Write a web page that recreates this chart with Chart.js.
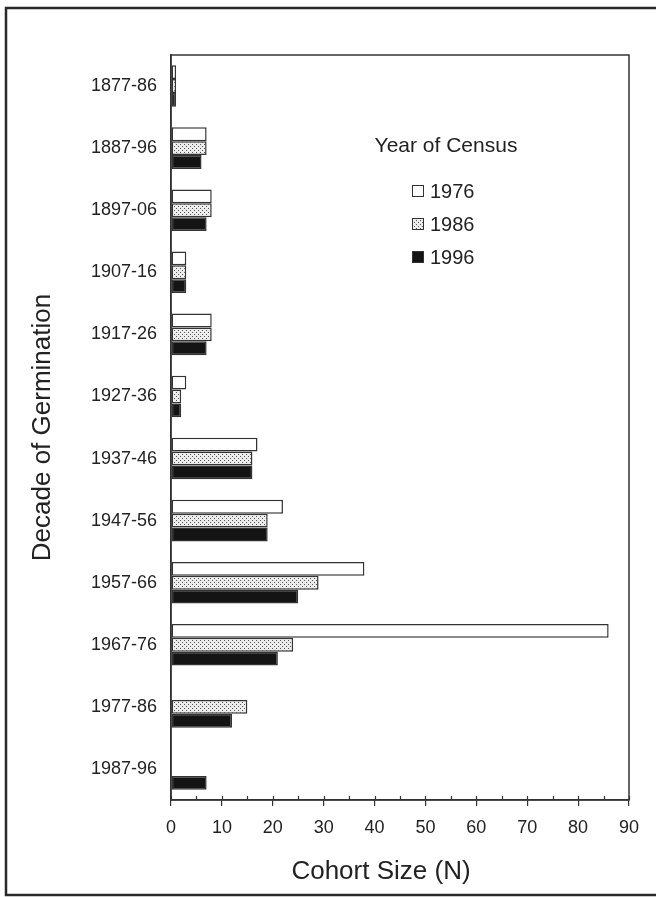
<!DOCTYPE html>
<html>
<head>
<meta charset="utf-8">
<script src="https://cdn.jsdelivr.net/npm/chart.js@4.4.0/dist/chart.umd.min.js"></script>
<style>
  html, body { margin: 0; background: #fff; }
  canvas { display: block; }
</style>
</head>
<body>
<canvas id="chart" width="656" height="897"></canvas>
<script>
// ---- data ----
const decades = ["1877-86", "1887-96", "1897-06", "1907-16", "1917-26", "1927-36",
                 "1937-46", "1947-56", "1957-66", "1967-76", "1977-86", "1987-96"];
const censusYears = ["1976", "1986", "1996"];
const census1976 = [1, 7, 8, 3, 8, 3, 17, 22, 38, 86, null, null];
const census1986 = [1, 7, 8, 3, 8, 2, 16, 19, 29, 24, 15, null];
const census1996 = [1, 6, 7, 3, 7, 2, 16, 19, 25, 21, 12, 7];
const xMin = 0, xMax = 90, xStep = 10, xMinorStep = 5;
const xTitle = "Cohort Size (N)";
const yTitle = "Decade of Germination";

const FONT = "'Liberation Sans', Arial, sans-serif";
const INK = "#222";

const canvas = document.getElementById("chart");
const ctx = canvas.getContext("2d");

// stipple fill for the 1986 bars
function dotPattern() {
  const c = document.createElement("canvas");
  c.width = 4; c.height = 4;
  const g = c.getContext("2d");
  g.fillStyle = "#ececec";
  g.fillRect(0, 0, 4, 4);
  g.fillStyle = "#555";
  g.fillRect(0, 0, 1, 1);
  g.fillRect(2, 2, 1, 1);
  return ctx.createPattern(c, "repeat");
}

const fills = ["#ffffff", dotPattern(), "#141414"];

// plot box, minor ticks, x title, outer frame and the legend inside the plot
const extras = {
  id: "extras",
  afterDraw(chart) {
    const { ctx, chartArea: a, scales: { x } } = chart;
    ctx.save();
    ctx.strokeStyle = "#333";
    ctx.lineWidth = 1.5;
    ctx.strokeRect(a.left, a.top, a.right - a.left, a.bottom - a.top);

    ctx.lineWidth = 1.2;
    ctx.beginPath();
    for (let v = xMin; v <= xMax; v += xMinorStep) {
      const px = Math.round(x.getPixelForValue(v)) + 0.5;
      ctx.moveTo(px, a.bottom);
      ctx.lineTo(px, a.bottom - 4);
    }
    ctx.stroke();

    // x title sits a little left of the plot centre in the original
    ctx.fillStyle = INK;
    ctx.font = "26px " + FONT;
    ctx.textAlign = "center";
    ctx.textBaseline = "middle";
    ctx.fillText(xTitle, 381, 872);

    // page frame
    ctx.strokeStyle = "#2a2a2a";
    ctx.lineWidth = 2.5;
    ctx.strokeRect(6, 8, 660, 887);

    // legend
    ctx.fillStyle = INK;
    ctx.font = "21px " + FONT;
    ctx.fillText("Year of Census", 446, 146);
    ctx.font = "20px " + FONT;
    ctx.textAlign = "left";
    const rows = [191, 224, 257];
    censusYears.forEach((yr, i) => {
      const y = rows[i];
      ctx.fillStyle = fills[i];
      ctx.fillRect(412, y - 6, 12, 12);
      ctx.strokeStyle = "#333";
      ctx.lineWidth = 1;
      ctx.strokeRect(412.5, y - 5.5, 11, 11);
      ctx.fillStyle = INK;
      ctx.fillText(yr, 430, y + 1);
    });
    ctx.restore();
  }
};

const series = [census1976, census1986, census1996];

new Chart(ctx, {
  type: "bar",
  data: {
    labels: decades,
    datasets: series.map((vals, i) => ({
      label: censusYears[i],
      data: vals,
      backgroundColor: fills[i],
      borderColor: "#333",
      borderWidth: 1.5,
      borderSkipped: false,
      categoryPercentage: 0.67,
      barPercentage: 1.0
    }))
  },
  options: {
    indexAxis: "y",
    responsive: false,
    animation: false,
    layout: { padding: { top: 55, right: 27, left: 0, bottom: 0 } },
    plugins: { legend: { display: false }, tooltip: { enabled: false } },
    scales: {
      x: {
        type: "linear",
        min: xMin,
        max: xMax,
        ticks: { stepSize: xStep, color: INK, font: { family: FONT, size: 18 }, padding: 11 },
        grid: { drawOnChartArea: false, drawTicks: true, tickLength: 6, color: "#333", lineWidth: 1.2 },
        border: { display: true, color: "#333", width: 1.5 },
        afterFit(scale) { scale.height = 97; }
      },
      y: {
        type: "category",
        offset: true,
        ticks: { color: INK, font: { family: FONT, size: 18 }, padding: 6 },
        grid: { display: false },
        border: { display: true, color: "#333", width: 1.5 },
        title: { display: true, text: yTitle, color: INK,
                 font: { family: FONT, size: 26 }, padding: 27 },
        afterFit(scale) { scale.width = 171; }
      }
    }
  },
  plugins: [extras]
});
</script>
</body>
</html>
